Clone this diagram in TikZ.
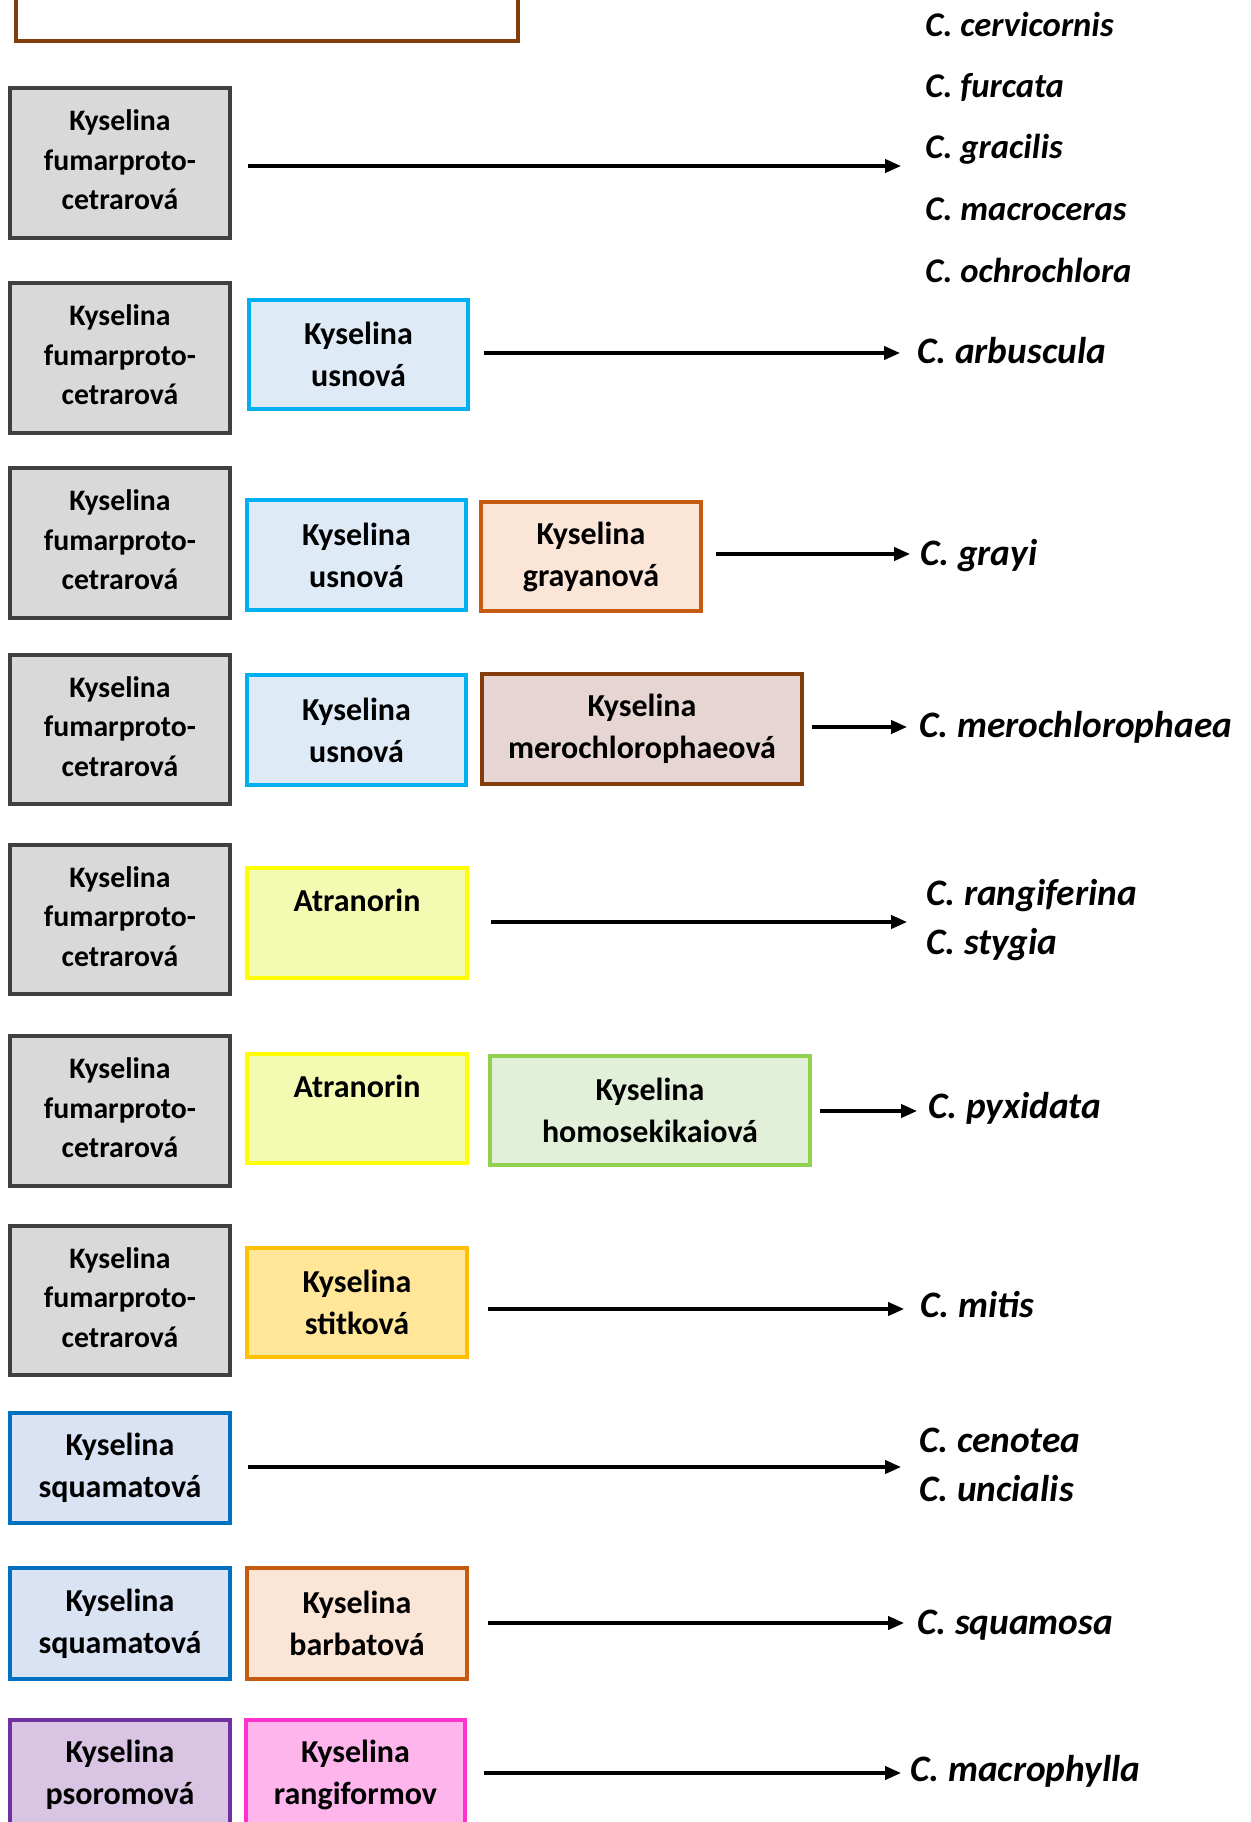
\documentclass[tikz,border=0pt]{standalone}
\usepackage{fontspec}
\setmainfont{Carlito}
\usetikzlibrary{fit,arrows.meta}
\definecolor{grayF}{HTML}{D9D9D9}\definecolor{grayD}{HTML}{404040}
\definecolor{usnF}{HTML}{DEEBF7}\definecolor{usnD}{HTML}{00B0F0}
\definecolor{orF}{HTML}{FBE5D6}\definecolor{orD}{HTML}{C55A11}
\definecolor{meF}{HTML}{E7D5D3}\definecolor{meD}{HTML}{843C0C}
\definecolor{atF}{HTML}{F3FAB1}\definecolor{atD}{HTML}{FFFF00}
\definecolor{hoF}{HTML}{E2F0D9}\definecolor{hoD}{HTML}{92D050}
\definecolor{stF}{HTML}{FFE699}\definecolor{stD}{HTML}{FFC000}
\definecolor{sqF}{HTML}{DAE3F3}\definecolor{sqD}{HTML}{0070C0}
\definecolor{psF}{HTML}{D9C5E3}\definecolor{psD}{HTML}{7030A0}
\definecolor{raF}{HTML}{FDB5EC}\definecolor{raD}{HTML}{FF33CC}
\begin{document}
\begin{tikzpicture}[x=0.75pt,y=-0.75pt,
  box/.style={draw,line width=2.7pt,inner sep=0pt},
  graybox/.style={box,fill=grayF,draw=grayD},
  usn/.style={box,fill=usnF,draw=usnD},
  ora/.style={box,fill=orF,draw=orD},
  mero/.style={box,fill=meF,draw=meD},
  atr/.style={box,fill=atF,draw=atD},
  homo/.style={box,fill=hoF,draw=hoD},
  stit/.style={box,fill=stF,draw=stD},
  squam/.style={box,fill=sqF,draw=sqD},
  psor/.style={box,fill=psF,draw=psD},
  rang/.style={box,fill=raF,draw=raD},
  gtxt/.style={inner sep=0pt,align=center,yshift=2.2pt,
    font=\bfseries\fontsize{22.3}{29.6}\selectfont},
  btxt/.style={inner sep=0pt,align=center,yshift=0pt,
    font=\bfseries\fontsize{24}{31.5}\selectfont},
  txt/.style={inner sep=0pt,anchor=base,font=\bfseries\fontsize{24}{29}\selectfont},
  lab/.style={inner sep=0pt,anchor=base west,font=\bfseries\itshape\fontsize{28}{29}\selectfont},
  lab1/.style={lab,font=\bfseries\itshape\fontsize{26}{29}\selectfont},
  arr/.style={line width=2.4pt,-{Triangle[length=12pt,width=10pt]}}]
\clip (0,0) rectangle (1250,1822);
\fill[white] (0,0) rectangle (1250,1822);

% top (cut-off) box
\node[box,draw=meD,fill=white,fit={(16,-30)(518,41)}] (top) {};

% Row 1
\node[graybox,fit={(10,88)(230,238)}] (g1) {};
\node[gtxt] (g1t) at (g1.center) {Kyselina\\fumarproto-\\cetrarová};
\node[lab1] (l1a) at (925,37) {C. cervicornis};
\node[lab1] (l1b) at (925,98) {C. furcata};
\node[lab1] (l1c) at (925,159) {C. gracilis};
\node[lab1] (l1d) at (925,221) {C. macroceras};
\node[lab1] (l1e) at (925,283) {C. ochrochlora};
\coordinate (e1) at (901,166);
\draw[arr,shorten <=12.5pt] (g1.east |- e1) -- (e1);

% Row 2
\node[graybox,fit={(10,283)(230,433)}] (g2) {};
\node[gtxt] (g2t) at (g2.center) {Kyselina\\fumarproto-\\cetrarová};
\node[usn,fit={(249,300)(468,409)}] (u2) {};
\node[btxt] (u2t) at (u2.center) {Kyselina\\usnová};
\node[lab] (l2) at (917,364) {C. arbuscula};
\coordinate (e2) at (900,353);
\draw[arr,shorten <=10.5pt] (u2.east |- e2) -- (e2);

% Row 3
\node[graybox,fit={(10,468)(230,618)}] (g3) {};
\node[gtxt] (g3t) at (g3.center) {Kyselina\\fumarproto-\\cetrarová};
\node[usn,fit={(247,500)(466,610)}] (u3) {};
\node[btxt] (u3t) at (u3.center) {Kyselina\\usnová};
\node[ora,fit={(481,502)(701,611)}] (o3) {};
\node[btxt] (o3t) at (o3.center) {Kyselina\\grayanová};
\coordinate (e3) at (910,554);
\node[lab] (l3) at (920,565) {C. grayi};
\draw[arr,shorten <=10pt] (o3.east |- e3) -- (e3);

% Row 4
\node[graybox,fit={(10,655)(230,804)}] (g4) {};
\node[gtxt] (g4t) at (g4.center) {Kyselina\\fumarproto-\\cetrarová};
\node[usn,fit={(247,675)(466,785)}] (u4) {};
\node[btxt] (u4t) at (u4.center) {Kyselina\\usnová};
\node[mero,fit={(482,674)(802,784)}] (m4) {};
\node[btxt] (m4t) at (m4.center) {Kyselina\\merochlorophaeová};
\coordinate (e4) at (907,727);
\node[lab] (l4) at (919,737) {C. merochlorophaea};
\draw[arr,shorten <=6pt] (m4.east |- e4) -- (e4);

% Row 5
\node[graybox,fit={(10,845)(230,994)}] (g5) {};
\node[gtxt] (g5t) at (g5.center) {Kyselina\\fumarproto-\\cetrarová};
\node[atr,fit={(247,868)(467,978)}] (a5) {};
\node[txt] (a5t) at (357,911) {Atranorin};
\coordinate (e5) at (907,922);
\node[lab] (l5a) at (926,905) {C. rangiferina};
\node[lab] (l5b) at (926,954) {C. stygia};
\draw[arr,shorten <=16.5pt] (a5.east |- e5) -- (e5);

% Row 6
\node[graybox,fit={(10,1036)(230,1186)}] (g6) {};
\node[gtxt] (g6t) at (g6.center) {Kyselina\\fumarproto-\\cetrarová};
\node[atr,fit={(247,1054)(467,1163)}] (a6) {};
\node[txt] (a6t) at (357,1097) {Atranorin};
\node[homo,fit={(490,1056)(810,1165)}] (h6) {};
\node[btxt] (h6t) at (h6.center) {Kyselina\\homosekikaiová};
\coordinate (e6) at (917,1111);
\node[lab] (l6) at (928,1118) {C. pyxidata};
\draw[arr,shorten <=6pt] (h6.east |- e6) -- (e6);

% Row 7
\node[graybox,fit={(10,1226)(230,1375)}] (g7) {};
\node[gtxt] (g7t) at (g7.center) {Kyselina\\fumarproto-\\cetrarová};
\node[stit,fit={(247,1248)(467,1357)}] (s7) {};
\node[btxt] (s7t) at (s7.center) {Kyselina\\stitková};
\coordinate (e7) at (904,1309);
\node[lab] (l7) at (920,1317) {C. mitis};
\draw[arr,shorten <=14.5pt] (s7.east |- e7) -- (e7);

% Row 8
\node[squam,fit={(10,1413)(230,1523)}] (q8) {};
\node[btxt] (q8t) at (q8.center) {Kyselina\\squamatová};
\coordinate (e8) at (901,1467);
\node[lab] (l8a) at (919,1452) {C. cenotea};
\node[lab] (l8b) at (919,1501) {C. uncialis};
\draw[arr,shorten <=12.5pt] (q8.east |- e8) -- (e8);

% Row 9
\node[squam,fit={(10,1568)(230,1679)}] (q9) {};
\node[btxt] (q9t) at (q9.center) {Kyselina\\squamatová};
\node[ora,fit={(247,1568)(467,1679)}] (b9) {};
\node[btxt] (b9t) at (b9.center) {Kyselina\\barbatová};
\coordinate (e9) at (904,1623);
\node[lab] (l9) at (917,1634) {C. squamosa};
\draw[arr,shorten <=14.5pt] (b9.east |- e9) -- (e9);

% Row 10
\node[psor,fit={(10,1720)(230,1830)}] (p10) {};
\node[btxt] (p10t) at (p10.center) {Kyselina\\psoromová};
\node[rang,fit={(246,1720)(465,1830)}] (r10) {};
\node[btxt] (r10t) at (r10.center) {Kyselina\\rangiformov};
\coordinate (e10) at (901,1773);
\node[lab] (l10) at (910,1781) {C. macrophylla};
\draw[arr,shorten <=13pt] (r10.east |- e10) -- (e10);
\end{tikzpicture}
\end{document}
